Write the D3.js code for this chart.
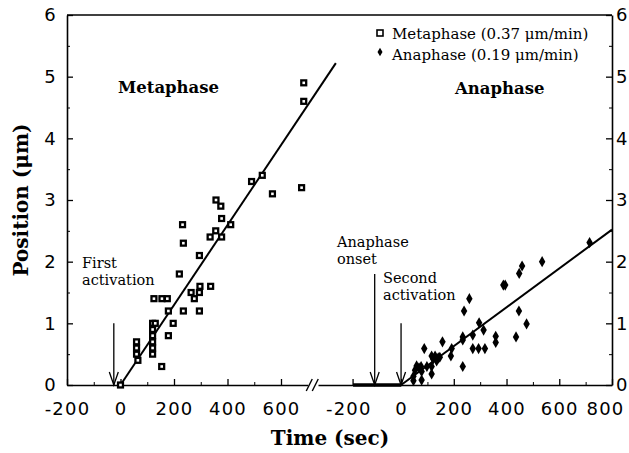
<!DOCTYPE html>
<html lang="en">
<head>
    <meta charset="UTF-8">
    <title>Position vs time</title>
    <style>
        body { margin: 0; background: #fff; }
    </style>
</head>
<body>
    <div class="container"></div>
    <script src="https://cdn.jsdelivr.net/npm/d3@7/dist/d3.min.js"></script>
    <script>
        // Data (time in sec, position in um)
        const metaphaseTime = [0, 60, 60, 60, 65, 120, 120, 120, 120, 120, 120, 130, 125, 155, 175,
            154, 179, 179, 197, 220, 232, 235, 235, 264, 276, 295, 295, 297, 295, 337,
            335, 357, 375, 378, 378, 356, 412, 490, 530, 568, 677, 685, 685]
        const metaphasePos = [0, 0.7, 0.6, 0.5, 0.4, 1.0, 0.9, 0.8, 0.7, 0.6, 0.5, 1.0, 1.4, 1.4, 1.4,
            0.3, 0.8, 1.2, 1.0, 1.8, 2.6, 2.3, 1.2, 1.5, 1.4, 2.1, 1.5, 1.6, 1.2, 1.6,
            2.4, 3.0, 2.9, 2.7, 2.4, 2.5, 2.6, 3.3, 3.4, 3.1, 3.2, 4.9, 4.6]

        const anaphaseTime = [47, 47, 53, 59, 68, 76, 78, 78, 88, 98, 116, 116, 116, 122, 129, 135, 141, 147,
            157, 189, 192, 234, 234, 234, 239, 259, 272, 272, 294, 296, 313, 318, 359, 359,
            388, 395, 436, 447, 448, 459, 476, 535, 715]
        const anaphasePos = [0.07, 0.14, 0.24, 0.31, 0.28, 0.30, 0.22, 0.08, 0.59, 0.3, 0.47, 0.30, 0.18, 0.42, 0.47, 0.39, 0.44, 0.45,
            0.70, 0.47, 0.59, 0.30, 0.73, 0.78, 1.2, 1.4, 0.81, 0.59, 0.59, 1.01, 0.89, 0.59, 0.79, 0.69,
            1.62, 1.62, 0.78, 1.2, 1.81, 1.93, 0.99, 2.0, 2.31]

        // fitted lines [time, position]
        const metaphaseFit = [[0, 0], [805, 5.22]]
        const anaphaseFit = [[0, 0], [800, 2.52]]
        const anaphaseFlat = [[-182, 0], [0, 0]]

        // axis ticks
        const yTicks = [0, 1, 2, 3, 4, 5, 6]
        const yMinorTicks = [0.5, 1.5, 2.5, 3.5, 4.5, 5.5]
        const leftXTicks = [-200, 0, 200, 400, 600]
        const leftXMinor = [-100, 100, 300, 500]
        const rightXTicks = [-200, 0, 200, 400, 600, 800]
        const rightXMinor = [100, 300, 500, 700]

        const legendLabels = ["Metaphase (0.37 \u03bcm/min)", "Anaphase (0.19 \u03bcm/min)"]

        // arrows: [time, top position]
        const leftArrows = [[-25, 1.0]]
        const rightArrows = [[-100, 1.8], [0, 1.0]]

        // Setup config
        const width = 629
        const height = 453
        const sans = "'DejaVu Sans', sans-serif"
        const serif = "'DejaVu Serif', serif"

        const svg = d3.select('.container')
            .append("svg")
            .attr("width", width)
            .attr("height", height)

        // Scales
        const y = d3.scaleLinear().domain([0, 6]).range([385, 15])
        const xLeft = d3.scaleLinear().domain([-200, 700]).range([67, 307.75])
        const xRight = d3.scaleLinear().domain([-315, 800]).range([318, 612])

        function styleAxis(g) {
            g.select(".domain").attr("stroke-width", 1.6)
            g.selectAll(".tick line").attr("stroke-width", 1.3)
            g.selectAll("text")
                .attr("font-family", sans)
                .attr("font-size", 18)
                .attr("letter-spacing", "1.2px")
                .attr("fill", "#000")
        }

        // bottom axes
        const bottomLeft = svg.append("g")
            .attr("transform", `translate(0,${y(0)})`)
            .call(d3.axisBottom(xLeft).tickValues(leftXTicks).tickSizeInner(-6).tickSizeOuter(0)
                .tickPadding(17).tickFormat(d => String(d)))
        styleAxis(bottomLeft)
        svg.append("g")
            .attr("transform", `translate(0,${y(0)})`)
            .call(d3.axisBottom(xLeft).tickValues(leftXMinor).tickSize(-3).tickFormat(""))
            .call(g => g.select(".domain").remove())

        const bottomRight = svg.append("g")
            .attr("transform", `translate(0,${y(0)})`)
            .call(d3.axisBottom(xRight).tickValues(rightXTicks).tickSizeInner(-6).tickSizeOuter(0)
                .tickPadding(17).tickFormat(d => String(d)))
        styleAxis(bottomRight)
        bottomRight.selectAll(".tick").filter(d => d === -200).select("line").remove()
        // last label sits a little inside the frame, as in the figure
        bottomRight.selectAll(".tick").filter(d => d === 800).select("text").attr("dx", -7)
        svg.append("g")
            .attr("transform", `translate(0,${y(0)})`)
            .call(d3.axisBottom(xRight).tickValues(rightXMinor).tickSize(-3).tickFormat(""))
            .call(g => g.select(".domain").remove())

        // y axes
        const leftAxis = svg.append("g")
            .attr("transform", `translate(${xLeft.range()[0]},0)`)
            .call(d3.axisLeft(y).tickValues(yTicks).tickSizeInner(-6).tickSizeOuter(0)
                .tickPadding(10).tickFormat(d => String(d)))
        styleAxis(leftAxis)
        svg.append("g")
            .attr("transform", `translate(${xLeft.range()[0]},0)`)
            .call(d3.axisLeft(y).tickValues(yMinorTicks).tickSize(-3).tickFormat(""))
            .call(g => g.select(".domain").remove())

        const rightAxis = svg.append("g")
            .attr("transform", `translate(${xRight.range()[1]},0)`)
            .call(d3.axisRight(y).tickValues(yTicks).tickSizeInner(-6).tickSizeOuter(0)
                .tickPadding(4).tickFormat(d => String(d)))
        styleAxis(rightAxis)
        svg.append("g")
            .attr("transform", `translate(${xRight.range()[1]},0)`)
            .call(d3.axisRight(y).tickValues(yMinorTicks).tickSize(-3).tickFormat(""))
            .call(g => g.select(".domain").remove())

        // top frame line
        svg.append("line")
            .attr("x1", xLeft.range()[0]).attr("x2", xRight.range()[1])
            .attr("y1", y(6)).attr("y2", y(6))
            .attr("stroke", "#000").attr("stroke-width", 1.6)

        // axis break marks
        const breakX = [xLeft.range()[1] + 1.5, xLeft.range()[1] + 7.5]
        svg.selectAll(".break").data(breakX).join("line")
            .attr("class", "break")
            .attr("x1", d => d - 3).attr("y1", y(0) + 6)
            .attr("x2", d => d + 3).attr("y2", y(0) - 6)
            .attr("stroke", "#000").attr("stroke-width", 1.4)

        // fit lines
        svg.append("path")
            .datum(metaphaseFit)
            .attr("d", d3.line().x(d => xLeft(d[0])).y(d => y(d[1])))
            .attr("fill", "none").attr("stroke", "#000").attr("stroke-width", 2)
        svg.append("path")
            .datum(anaphaseFit)
            .attr("d", d3.line().x(d => xRight(d[0])).y(d => y(d[1])))
            .attr("fill", "none").attr("stroke", "#000").attr("stroke-width", 2)
        svg.append("path")
            .datum(anaphaseFlat)
            .attr("d", d3.line().x(d => xRight(d[0])).y(d => y(d[1])))
            .attr("fill", "none").attr("stroke", "#000").attr("stroke-width", 3.5)
        svg.append("line")
            .attr("x1", xRight(anaphaseFlat[0][0])).attr("x2", xRight(anaphaseFlat[0][0]))
            .attr("y1", y(0)).attr("y2", y(0) - 6)
            .attr("stroke", "#000").attr("stroke-width", 1.3)

        // arrows
        function drawArrow(x, top) {
            const g = svg.append("g").attr("fill", "none").attr("stroke", "#000").attr("stroke-width", 1.3)
            g.append("line").attr("x1", x).attr("x2", x).attr("y1", y(top)).attr("y2", y(0))
            g.append("polyline").attr("points", `${x - 4.5},${y(0) - 13} ${x},${y(0)} ${x + 4.5},${y(0) - 13}`)
        }
        leftArrows.forEach(d => drawArrow(xLeft(d[0]), d[1]))
        rightArrows.forEach(d => drawArrow(xRight(d[0]), d[1]))

        // metaphase squares (dark box with a small light centre)
        const metaData = metaphaseTime.map((t, i) => [t, metaphasePos[i]])
        const squares = svg.append("g").selectAll("g").data(metaData).join("g")
            .attr("transform", d => `translate(${xLeft(d[0])},${y(d[1])})`)
        squares.append("rect")
            .attr("x", -3.6).attr("y", -3.6).attr("width", 7.2).attr("height", 7.2)
            .attr("fill", "#000")
        squares.append("rect")
            .attr("x", -1.3).attr("y", -1.3).attr("width", 2.6).attr("height", 2.6)
            .attr("fill", "#fff")

        // anaphase diamonds
        const anaData = anaphaseTime.map((t, i) => [t, anaphasePos[i]])
        const diamond = d3.symbol(d3.symbolDiamond, 36)
        svg.append("g").selectAll("path").data(anaData).join("path")
            .attr("transform", d => `translate(${xRight(d[0])},${y(d[1])})`)
            .attr("d", diamond)
            .attr("fill", "#000")

        // legend
        const legend = svg.append("g").attr("transform", "translate(380,33)")
        legend.append("rect").attr("x", -3).attr("y", -3).attr("width", 6).attr("height", 6)
            .attr("fill", "#fff").attr("stroke", "#000").attr("stroke-width", 1.6)
        legend.append("path").attr("transform", "translate(0,19)").attr("d", d3.symbol(d3.symbolDiamond, 22)).attr("fill", "#000")
        legend.selectAll("text").data(legendLabels).join("text")
            .attr("x", 12)
            .attr("y", (d, i) => 6 + i * 21)
            .attr("font-family", serif)
            .attr("font-size", 15)
            .text(d => d)

        // panel titles
        svg.append("text").attr("x", 118).attr("y", 93)
            .attr("font-family", serif).attr("font-weight", "bold").attr("font-size", 16.5)
            .text("Metaphase")
        svg.append("text").attr("x", 455).attr("y", 94)
            .attr("font-family", serif).attr("font-weight", "bold").attr("font-size", 16.5)
            .text("Anaphase")

        // annotations
        const notes = [
            { x: 82, y: 268, lines: ["First", "activation"] },
            { x: 337, y: 247, lines: ["Anaphase", "onset"] },
            { x: 383, y: 283, lines: ["Second", "activation"] }
        ]
        notes.forEach(n => {
            svg.append("text")
                .attr("font-family", serif).attr("font-size", 14.5)
                .selectAll("tspan").data(n.lines).join("tspan")
                .attr("x", n.x)
                .attr("y", (d, i) => n.y + i * 16.5)
                .text(d => d)
        })

        // axis titles
        svg.append("text")
            .attr("x", 330).attr("y", 445)
            .attr("text-anchor", "middle")
            .attr("font-family", serif).attr("font-weight", "bold").attr("font-size", 20)
            .text("Time (sec)")
        svg.append("text")
            .attr("transform", "translate(28,200) rotate(-90)")
            .attr("text-anchor", "middle")
            .attr("font-family", serif).attr("font-weight", "bold").attr("font-size", 20)
            .text("Position (\u03bcm)")
    </script>
</body>
</html>
